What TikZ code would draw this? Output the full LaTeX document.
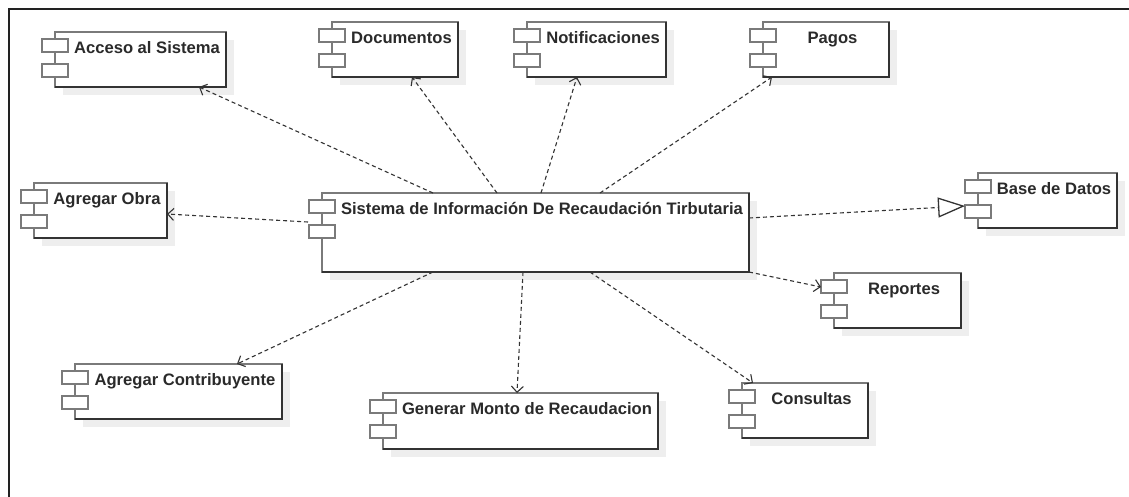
\documentclass[tikz,border=0pt]{standalone}
\usepackage{fontspec}
\setmainfont{Liberation Sans}
\usetikzlibrary{arrows.meta,calc}
\definecolor{framec}{HTML}{222222}
\definecolor{boxc}{HTML}{7A7A7A}
\definecolor{darkc}{HTML}{333333}
\definecolor{shadowc}{HTML}{EEEEEE}
\definecolor{textc}{HTML}{2A2A2A}
\definecolor{linec}{HTML}{333333}
\tikzset{
  compbox/.style={draw=boxc, line width=1.3pt, fill=white, rectangle, inner sep=0pt, outer sep=0pt, anchor=north west},
  comptext/.style={font=\bfseries\fontsize{16.6}{18}\selectfont, text=textc, inner sep=0pt, anchor=base},
  compicon/.style={draw=boxc, line width=1.3pt, fill=white},
  compedge/.style={draw=darkc, line width=1.3pt},
  compshadow/.style={fill=shadowc, draw=none},
  dep/.style={draw=linec, line width=1.1pt, dash pattern=on 4pt off 3pt, -{Straight Barb[length=6pt,width=12pt,line width=1.1pt]}},
  realize/.style={draw=linec, line width=1.1pt, dash pattern=on 4pt off 3pt, -{Triangle[open,length=27pt,width=20pt,line width=1.3pt,fill=white]}},
}
\newcommand{\umlcomp}[6]{%
  \fill[compshadow] (#2+8,#3+8) rectangle (#4+8,#5+8);
  \node[compbox, minimum width={#4-#2}, minimum height={#5-#3}] (#1) at (#2,#3) {};
  \draw[compedge] (#1.north east) -- (#1.south east) -- (#1.south west);
  \draw[compicon] (#2-13,#3+7) rectangle (#2+13,#3+20);
  \draw[compicon] (#2-13,#3+32) rectangle (#2+13,#3+45);
  \node[comptext] (#1-label) at ({(#2+13+#4)/2},#3+21) {#6};
}
\begin{document}
\begin{tikzpicture}[x=1pt,y=-1pt]
\useasboundingbox (0,0) rectangle (1129,496);
\fill[white] (0,0) rectangle (1129,496);
\draw[framec, line width=2pt] (9,500) -- (9,9) -- (1135,9);

\umlcomp{acc}{55}{32}{226}{87}{Acceso al Sistema}
\umlcomp{doc}{332}{22}{458}{77}{Documentos}
\umlcomp{noti}{527}{22}{666}{77}{Notificaciones}
\umlcomp{pag}{763}{22}{889}{77}{Pagos}
\umlcomp{obra}{34}{183}{167}{238}{Agregar Obra}
\umlcomp{sis}{322}{193}{749}{272}{Sistema de Información De Recaudación Tirbutaria}
\umlcomp{bd}{978}{173}{1117}{228}{Base de Datos}
\umlcomp{rep}{834}{273}{961}{328}{Reportes}
\umlcomp{contrib}{75}{364}{282}{419}{Agregar Contribuyente}
\umlcomp{gen}{383}{393}{658}{449}{Generar Monto de Recaudacion}
\umlcomp{cons}{742}{383}{868}{438}{Consultas}

\draw[dep] ($(sis.north west)+(111,0)$) -- ($(acc.south west)+(144,0)$);
\draw[dep] ($(sis.north west)+(175,0)$) -- ($(doc.south west)+(80,0)$);
\draw[dep] ($(sis.north west)+(219,0)$) -- ($(noti.south west)+(50,0)$);
\draw[dep] ($(sis.north west)+(278,0)$) -- ($(pag.south west)+(9,0)$);
\draw[dep] ($(sis.north west)+(-14,29)$) -- ($(obra.north east)+(0,31)$);
\draw[realize] ($(sis.north east)+(0,25)$) -- ($(bd.north west)+(-13,33)$);
\draw[dep] (sis.south east) -- ($(rep.north west)+(-13,14)$);
\draw[dep] ($(sis.south west)+(268,0)$) -- ($(cons.north west)+(11,0)$);
\draw[dep] ($(sis.south west)+(201,0)$) -- ($(gen.north west)+(134,0)$);
\draw[dep] ($(sis.south west)+(111,0)$) -- ($(contrib.north west)+(162,0)$);
\end{tikzpicture}
\end{document}
